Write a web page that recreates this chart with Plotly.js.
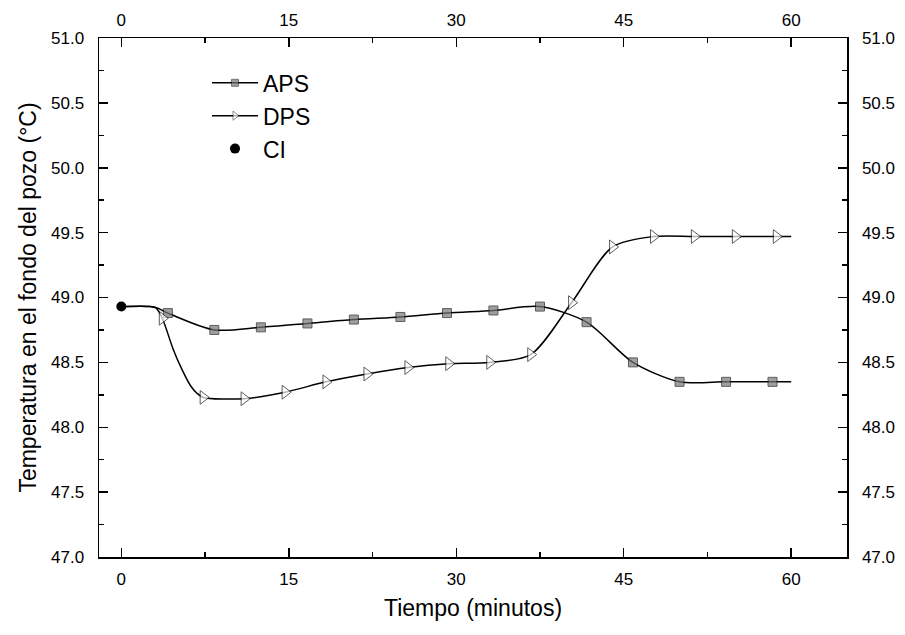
<!DOCTYPE html>
<html>
<head>
<meta charset="utf-8">
<script src="https://cdn.plot.ly/plotly-3.0.1.min.js"></script>
<style>html,body{margin:0;padding:0;background:#fff;}#chart{width:905px;height:635px;}</style>
</head>
<body>
<div id="chart"></div>
<script>
// ---- data ----
// APS: time (minutes) and bottom-hole temperature (°C); markers only where apsMarker = 1
var apsTime   = [0, 2.6, 3.2, 4.17, 8.33, 12.5, 16.67, 20.83, 25.0, 29.17, 33.33, 37.5, 41.67, 45.83, 50.0, 54.17, 58.33, 60];
var apsTemp   = [48.93, 48.93, 48.92, 48.88, 48.75, 48.77, 48.80, 48.83, 48.85, 48.88, 48.90, 48.93, 48.81, 48.50, 48.35, 48.35, 48.35, 48.35];
var apsMarker = [0, 0, 0, 1, 1, 1, 1, 1, 1, 1, 1, 1, 1, 1, 1, 1, 1, 0];

// DPS
var dpsTime   = [0, 2.6, 3.1, 3.67, 4.65, 5.46, 6.2, 6.8, 7.33, 11.0, 14.67, 18.33, 22.0, 25.67, 29.33, 33.0, 36.67, 40.33, 44.0, 47.67, 51.33, 55.0, 58.67, 60];
var dpsTemp   = [48.93, 48.93, 48.92, 48.84, 48.60, 48.44, 48.32, 48.26, 48.23, 48.22, 48.27, 48.35, 48.41, 48.46, 48.49, 48.50, 48.56, 48.96, 49.39, 49.47, 49.47, 49.47, 49.47, 49.47];
var dpsMarker = [0, 0, 0, 1, 0, 0, 0, 0, 1, 1, 1, 1, 1, 1, 1, 1, 1, 1, 1, 1, 1, 1, 1, 0];

// CI: initial condition
var ciTime = [0];
var ciTemp = [48.93];

var xTicks = [0, 15, 30, 45, 60];
var yTicks = [47.0, 47.5, 48.0, 48.5, 49.0, 49.5, 50.0, 50.5, 51.0];

// ---- styling ----
var FONT = '"Liberation Sans", Arial, Helvetica, sans-serif';
function sizes(flags, s) { return flags.map(function (f) { return f ? s : 0; }); }
function widths(flags, w) { return flags.map(function (f) { return f ? w : 0; }); }

var traces = [
  {
    name: 'APS', x: apsTime, y: apsTemp, mode: 'lines+markers',
    line: {color: '#000', width: 1.5, shape: 'spline', smoothing: 0.8},
    marker: {symbol: 'square', size: sizes(apsMarker, 9), color: '#777',
             line: {color: '#1a1a1a', width: widths(apsMarker, 1)}},
    hoverinfo: 'x+y'
  },
  {
    name: 'DPS', x: dpsTime, y: dpsTemp, mode: 'lines+markers',
    line: {color: '#000', width: 1.5, shape: 'spline', smoothing: 0.8},
    marker: {symbol: 'triangle-right', size: sizes(dpsMarker, 12), color: '#fff',
             line: {color: '#1a1a1a', width: widths(dpsMarker, 1)}},
    hoverinfo: 'x+y'
  },
  {
    name: 'CI', x: ciTime, y: ciTemp, mode: 'markers',
    marker: {symbol: 'circle', size: 10, color: '#000'},
    hoverinfo: 'x+y'
  },
  // invisible helper so the top/right axes are drawn
  {
    x: ciTime, y: ciTemp, xaxis: 'x2', yaxis: 'y2', mode: 'markers',
    marker: {opacity: 0}, showlegend: false, hoverinfo: 'skip'
  }
];

var tickFont = {family: FONT, size: 17, color: '#000'};
var minorX = {dtick: 7.5, tick0: 0, ticks: 'inside', ticklen: 5, tickcolor: '#000', tickwidth: 1.5};
var minorY = {dtick: 0.25, tick0: 47, ticks: 'inside', ticklen: 5, tickcolor: '#000', tickwidth: 1.5};
function fmt(v) { return v.toFixed(1); }

var common = {
  showline: true, linecolor: '#000', linewidth: 1.5,
  ticks: 'inside', tickcolor: '#000', tickwidth: 1.5, ticklen: 9,
  showgrid: false, zeroline: false, tickfont: tickFont, automargin: false
};
function ax(extra) { return Object.assign({}, common, extra); }

var layout = {
  width: 905, height: 635,
  margin: {l: 99, r: 58, t: 38, b: 78},
  paper_bgcolor: '#fff', plot_bgcolor: '#fff',
  font: {family: FONT, color: '#000'},
  showlegend: true,
  legend: {
    x: 0.1444, xanchor: 'left', y: 0.955, yanchor: 'top',
    bgcolor: 'rgba(0,0,0,0)', borderwidth: 0,
    font: {family: FONT, size: 23, color: '#000'},
    itemwidth: 46
  },
  xaxis: ax({
    range: [-2, 65], tickvals: xTicks, ticktext: xTicks.map(String),
    minor: minorX, ticklabelstandoff: 6,
    title: {text: 'Tiempo (minutos)', font: {family: FONT, size: 23, color: '#000'}, standoff: 12}
  }),
  xaxis2: ax({
    range: [-2, 65], tickvals: xTicks, ticktext: xTicks.map(String),
    minor: minorX, overlaying: 'x', side: 'top', anchor: 'y2', ticklabelstandoff: 4
  }),
  yaxis: ax({
    range: [47, 51], tickvals: yTicks, ticktext: yTicks.map(fmt),
    minor: minorY, ticklabelstandoff: 10,
    title: {text: 'Temperatura en el fondo del pozo (°C)', font: {family: FONT, size: 23, color: '#000'}, standoff: 8}
  }),
  yaxis2: ax({
    range: [47, 51], tickvals: yTicks, ticktext: yTicks.map(fmt),
    minor: minorY, overlaying: 'y', side: 'right', anchor: 'x2', ticklabelstandoff: 10
  })
};

Plotly.newPlot('chart', traces, layout, {displayModeBar: false, staticPlot: true});
</script>
</body>
</html>
